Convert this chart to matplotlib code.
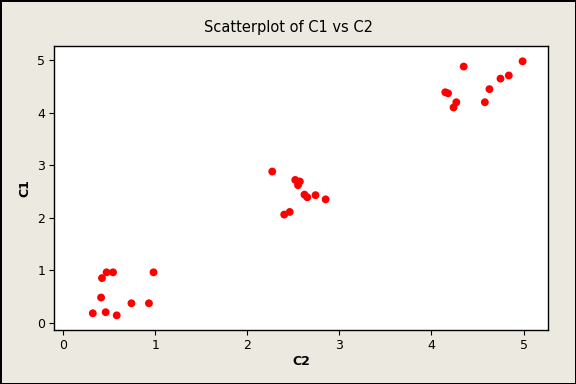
import matplotlib
matplotlib.use('Agg')
from matplotlib import pyplot as plt

# C2 (x) and C1 (y) values
c2 = [0.32, 0.46, 0.58, 0.41, 0.74, 0.93, 0.42, 0.47, 0.54, 0.98,
      2.27, 2.52, 2.57, 2.55, 2.62, 2.65, 2.74, 2.85, 2.40, 2.46,
      4.35, 4.99, 4.84, 4.75, 4.63, 4.15, 4.18, 4.27, 4.24, 4.58]
c1 = [0.18, 0.20, 0.14, 0.48, 0.37, 0.37, 0.85, 0.96, 0.96, 0.96,
      2.88, 2.72, 2.69, 2.62, 2.44, 2.39, 2.43, 2.35, 2.06, 2.11,
      4.88, 4.98, 4.71, 4.65, 4.45, 4.39, 4.37, 4.20, 4.10, 4.20]
ticks = [0, 1, 2, 3, 4, 5]

bg = '#ECE9E0'
fig = plt.figure(figsize=(5.76, 3.84), dpi=100, facecolor=bg)
fig.patch.set_edgecolor('black')
fig.patch.set_linewidth(2)

ax = fig.add_axes([0.0943, 0.1398, 0.952 - 0.0943, 0.880 - 0.1398])
ax.set_facecolor('white')
ax.scatter(c2, c1, s=32, color='red', edgecolors='none', zorder=3)

ax.set_xlim(-0.098, 5.27)
ax.set_ylim(-0.145, 5.27)
ax.set_xticks(ticks)
ax.set_yticks(ticks)
ax.tick_params(direction='out', length=3.5, width=0.8, labelsize=9, pad=3)
for s in ax.spines.values():
    s.set_linewidth(1)

ax.set_xlabel('C2', fontsize=9, fontweight='bold', labelpad=2)
ax.set_ylabel('C1', fontsize=9, fontweight='bold', labelpad=4)
fig.text(0.5, 1 - 27.5 / 384, 'Scatterplot of C1 vs C2', ha='center', va='center', fontsize=10.5)

fig.savefig('out.png', dpi=100, facecolor=bg, edgecolor='black')
